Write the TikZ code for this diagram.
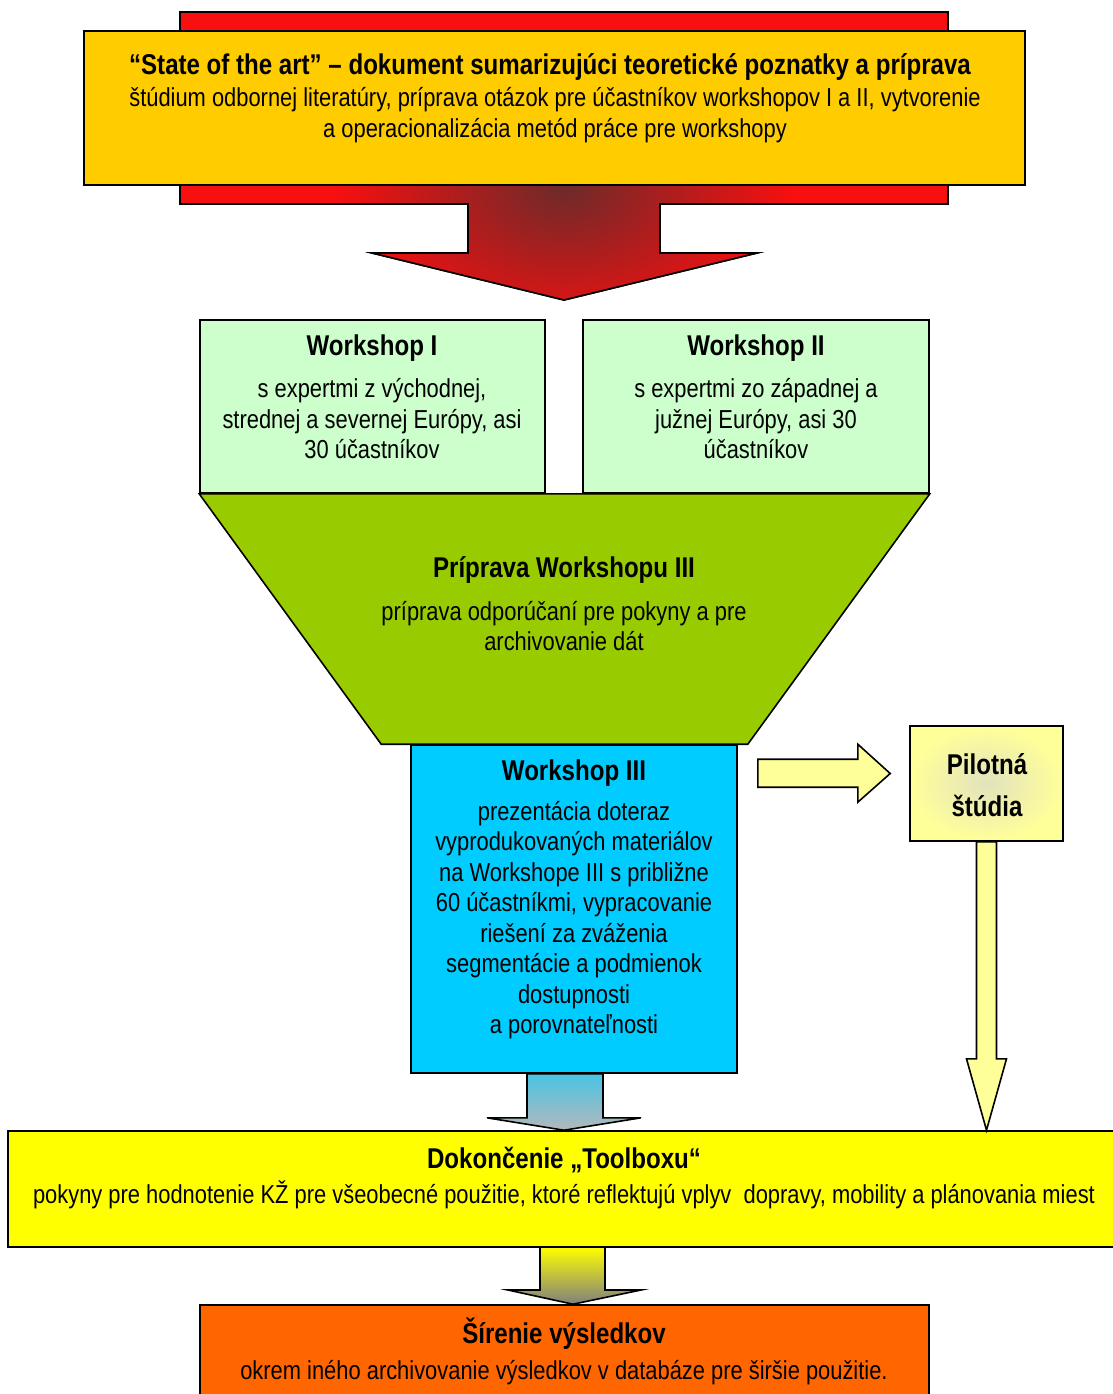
\documentclass[tikz,border=0pt]{standalone}
\usepackage{fontspec}
\setmainfont{Liberation Sans}[FakeStretch=0.842]
\usetikzlibrary{calc,fit}

\definecolor{sotafill}{HTML}{FFCC00}
\definecolor{redarr}{HTML}{F80F0F}
\definecolor{darkarr}{HTML}{6E2A2A}
\definecolor{wsfill}{HTML}{CCFFCC}
\definecolor{trapfill}{HTML}{99CC00}
\definecolor{bluefill}{HTML}{00CCFF}
\definecolor{pilotfill}{HTML}{FFFF99}
\definecolor{pilotglow}{HTML}{E2E2BE}
\definecolor{toolfill}{HTML}{FFFF00}
\definecolor{orangefill}{HTML}{FF6600}
\definecolor{arrgray}{HTML}{B4B8BC}

\tikzset{
	box/.style={draw=black, line width=0.8pt, inner sep=0pt},
	ttl/.style={font=\bfseries\fontsize{14.3}{17}\selectfont, align=center, inner sep=1pt},
	txt/.style={font=\fontsize{13}{15.25}\selectfont, align=center, inner sep=1pt},
	blockarr/.style={draw=black, line width=0.8pt, line join=miter}
}

\begin{document}
\begin{tikzpicture}[x=0.5pt,y=-0.5pt]
		\useasboundingbox (0,0) rectangle (1113,1394);
		\clip (0,0) rectangle (1113,1394);
		
		% red arrow behind the first box
		\path[blockarr, fill=redarr] (180,12) -- (948,12) -- (948,204) -- (660,204) -- (660,253)
			-- (757,253) -- (564,300) -- (372,253) -- (468,253) -- (468,204) -- (180,204) -- cycle;
		\begin{scope}
			\clip (180,12) -- (948,12) -- (948,204) -- (660,204) -- (660,253)
				-- (757,253) -- (564,300) -- (372,253) -- (468,253) -- (468,204) -- (180,204) -- cycle;
			\shade[inner color=darkarr, outer color=redarr] (564,188) ellipse (230 and 150);
		\end{scope}
		\draw[blockarr] (180,12) -- (948,12) -- (948,204) -- (660,204) -- (660,253)
			-- (757,253) -- (564,300) -- (372,253) -- (468,253) -- (468,204) -- (180,204) -- cycle;
		
		\node[box, fill=sotafill, fit={(84,31) (1025,185)}] (sota) {};
		\node[ttl] (sotat) at (550,67) {“State of the art” – dokument sumarizujúci teoretické poznatky a príprava};
		\node[txt] (sotab) at (555,115) {štúdium odbornej literatúry, príprava otázok pre účastníkov workshopov I a II, vytvorenie\\
			a operacionalizácia metód práce pre workshopy};
		
		% workshops I and II
		\node[box, fill=wsfill, fit={(200,320) (545,493)}] (wsi) {};
		\node[box, fill=wsfill, fit={(583,320) (929,493)}] (wsii) {};
		\node[ttl] (wsit) at (372,348) {Workshop I};
		\node[txt] (wsib) at (372,419) {s expertmi z východnej,\\ strednej a severnej Európy, asi\\ 30 účastníkov};
		\node[ttl] (wsiit) at (756,348) {Workshop II};
		\node[txt] (wsiib) at (756,419) {s expertmi zo západnej a\\ južnej Európy, asi 30\\ účastníkov};
		
		% workshop III
		\node[box, fill=bluefill, fit={(411,745) (737,1073)}] (wsiii) {};
		\draw[box, fill=trapfill] (wsi.south west) -- (wsii.south east)
			-- ($(wsiii.north east)+(10,0)$) -- ($(wsiii.north west)+(-29,0)$) -- cycle;
		\node[ttl] (prept) at (564,570) {Príprava Workshopu III};
		\node[txt] (prepb) at (564,626) {príprava odporúčaní pre pokyny a pre\\ archivovanie dát};
		\node[ttl] (wsiiit) at (574,773) {Workshop III};
		\node[txt] (wsiiib) at (574,920) {prezentácia doteraz\\ vyprodukovaných materiálov\\ na Workshope III s približne\\
			60 účastníkmi, vypracovanie\\ riešení za zváženia\\ segmentácie a podmienok\\ dostupnosti\\ a porovnateľnosti};
		
		% pilot study
		\node[box, shading=radial, inner color=pilotglow, outer color=pilotfill, fit={(910,726) (1063,841)}] (pilot) {};
		\node[ttl, font=\bfseries\fontsize{14.3}{21}\selectfont] (pilott) at (987,785) {Pilotná\\ štúdia};
		\draw[blockarr, fill=pilotfill] ($(wsiii.north east)+(20,15)$) -- ($(wsiii.north east)+(120,15)$)
			-- ($(wsiii.north east)+(120,0)$) -- ($(pilot.west)+(-19,-10)$) -- ($(wsiii.north east)+(120,58)$)
			-- ($(wsiii.north east)+(120,43)$) -- ($(wsiii.north east)+(20,43)$) -- cycle;
		
		% toolbox
		\node[box, fill=toolfill, fit={(8,1131) (1125,1247)}] (toolbox) {};
		\node[ttl] (toolt) at (564,1160) {Dokončenie „Toolboxu“};
		\node[txt] (toolb) at (564,1195) {pokyny pre hodnotenie KŽ pre všeobecné použitie, ktoré reflektujú vplyv\ \ dopravy, mobility a plánovania miest};
		\draw[blockarr, fill=pilotfill] ($(pilot.south)+(-10,0)$) -- ($(pilot.south)+(10,0)$)
			-- ($(pilot.south)+(10,217)$) -- ($(pilot.south)+(20,217)$) -- (pilot.south |- toolbox.north)
			-- ($(pilot.south)+(-20,217)$) -- ($(pilot.south)+(-10,217)$) -- cycle;
		\coordinate (bt) at ($(wsiii.south)+(-10,0)$);
		\draw[blockarr, top color=bluefill!60!arrgray, bottom color=arrgray] ($(bt)+(-37,0)$) -- ($(bt)+(39,0)$)
			-- ($(bt)+(39,44)$) -- ($(bt)+(77,44)$) -- (bt |- toolbox.north) -- ($(bt)+(-77,44)$)
			-- ($(bt)+(-37,44)$) -- cycle;
		
		% results
		\node[box, fill=orangefill, fit={(200,1305) (929,1410)}] (res) {};
		\node[ttl] (rest) at (564,1334) {Šírenie výsledkov};
		\node[txt] (resb) at (564,1373) {okrem iného archivovanie výsledkov v databáze pre širšie použitie.};
		\coordinate (tt) at (573,1247);
		\draw[blockarr, top color=toolfill, bottom color=gray] ($(tt)+(-33,0)$) -- ($(tt)+(32,0)$)
			-- ($(tt)+(32,43)$) -- ($(tt)+(68,43)$) -- (tt |- res.north) -- ($(tt)+(-65,43)$)
			-- ($(tt)+(-33,43)$) -- cycle;
\end{tikzpicture}
\end{document}
